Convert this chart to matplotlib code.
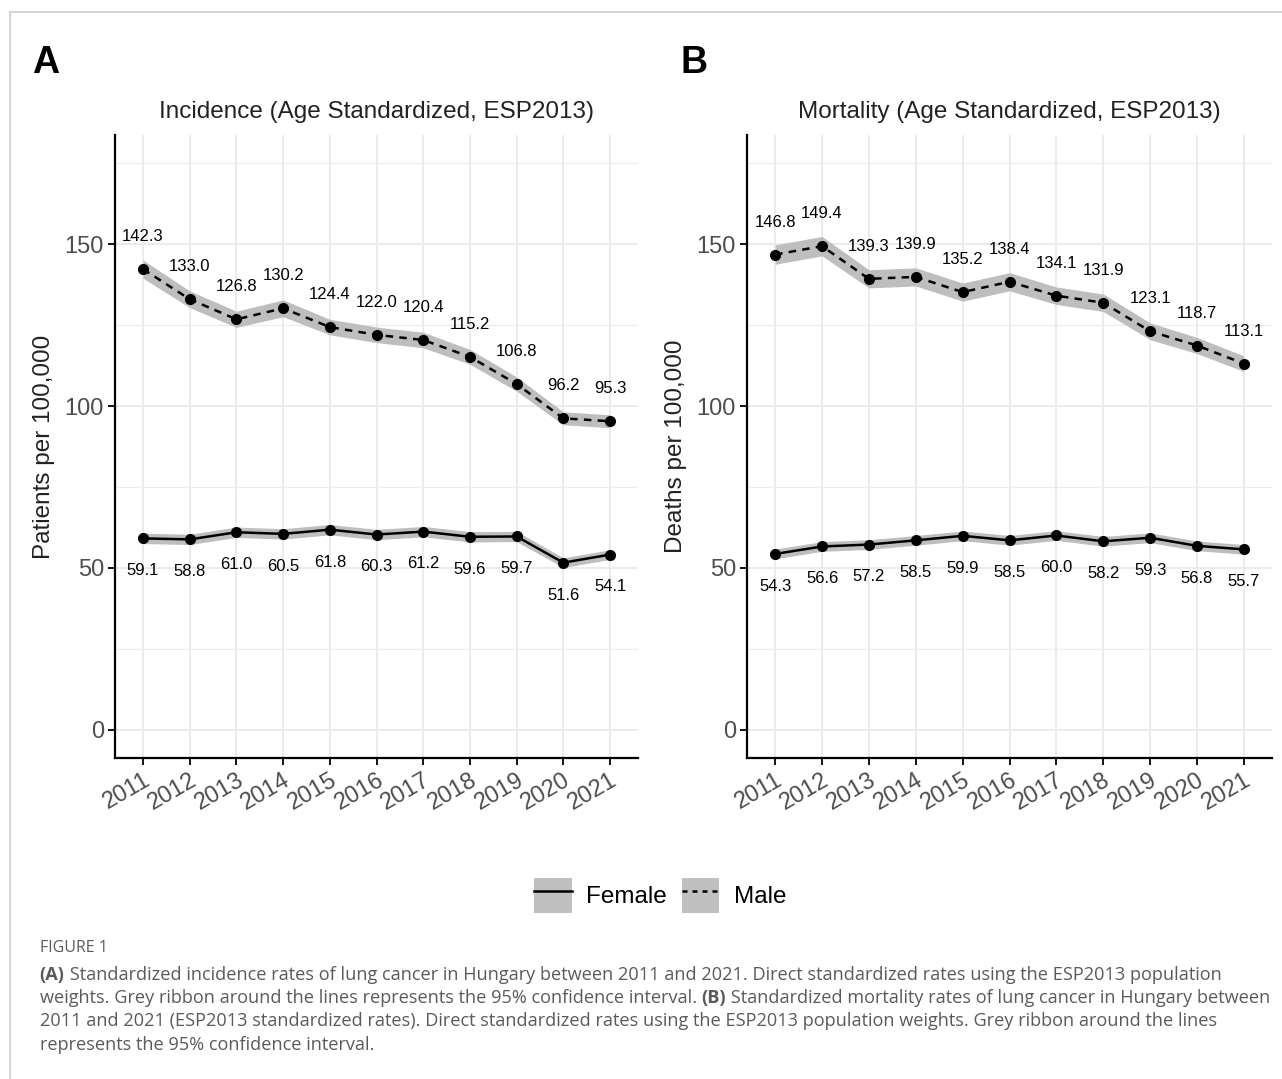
import matplotlib.pyplot as plt
from matplotlib.lines import Line2D
from matplotlib.patches import Patch

years = [2011, 2012, 2013, 2014, 2015, 2016, 2017, 2018, 2019, 2020, 2021]

# Incidence (panel A)
inc_male = [142.3, 133.0, 126.8, 130.2, 124.4, 122.0, 120.4, 115.2, 106.8, 96.2, 95.3]
inc_male_lo = [139.5, 130.4, 124.3, 127.6, 122.0, 119.6, 118.0, 112.9, 104.6, 94.2, 93.3]
inc_male_hi = [145.1, 135.6, 129.3, 132.8, 126.8, 124.4, 122.8, 117.5, 109.0, 98.2, 97.3]
inc_female = [59.1, 58.8, 61.0, 60.5, 61.8, 60.3, 61.2, 59.6, 59.7, 51.6, 54.1]
inc_female_lo = [57.5, 57.2, 59.4, 58.9, 60.2, 58.7, 59.6, 58.0, 58.1, 50.1, 52.6]
inc_female_hi = [60.7, 60.4, 62.6, 62.1, 63.4, 61.9, 62.8, 61.2, 61.3, 53.1, 55.6]

# Mortality (panel B)
mort_male = [146.8, 149.4, 139.3, 139.9, 135.2, 138.4, 134.1, 131.9, 123.1, 118.7, 113.1]
mort_male_lo = [143.8, 146.4, 136.5, 137.1, 132.4, 135.6, 131.4, 129.2, 120.5, 116.2, 110.7]
mort_male_hi = [149.8, 152.4, 142.1, 142.7, 138.0, 141.2, 136.8, 134.6, 125.7, 121.2, 115.5]
mort_female = [54.3, 56.6, 57.2, 58.5, 59.9, 58.5, 60.0, 58.2, 59.3, 56.8, 55.7]
mort_female_lo = [52.8, 55.1, 55.7, 57.0, 58.4, 57.0, 58.5, 56.7, 57.8, 55.3, 54.2]
mort_female_hi = [55.8, 58.1, 58.7, 60.0, 61.4, 60.0, 61.5, 59.7, 60.8, 58.3, 57.2]

plt.rcParams['font.family'] = ['Liberation Sans', 'DejaVu Sans']

fig = plt.figure(figsize=(12.82, 10.79), dpi=100)
ribbon_col = '#BEBEBE'
grid_col = '#EBEBEB'


def draw_panel(ax, male, male_lo, male_hi, female, female_lo, female_hi, title, ylabel):
    ax.fill_between(years, male_lo, male_hi, color=ribbon_col, lw=0, zorder=2)
    ax.fill_between(years, female_lo, female_hi, color=ribbon_col, lw=0, zorder=2)
    ax.plot(years, male, color='black', lw=1.8, ls=(0, (3, 2.5)), marker='o', ms=7, zorder=3)
    ax.plot(years, female, color='black', lw=1.8, ls='-', marker='o', ms=7, zorder=3)

    # value labels nudged above (male) and below (female)
    for x, v in zip(years, male):
        ax.text(x, v + 10, f'{v:.1f}', ha='center', va='center', fontsize=12, zorder=4)
    for x, v in zip(years, female):
        ax.text(x, v - 10, f'{v:.1f}', ha='center', va='center', fontsize=12, zorder=4)

    ax.set_xlim(2010.4, 2021.6)
    ax.set_ylim(-8.75, 183.75)
    ax.set_xticks(years)
    ax.set_xticklabels([str(y) for y in years], rotation=30, ha='right', va='top',
                       rotation_mode='anchor')
    ax.set_yticks([0, 50, 100, 150])
    ax.set_yticks([25, 75, 125, 175], minor=True)
    ax.grid(True, which='major', color=grid_col, lw=1.4, zorder=0)
    ax.grid(True, which='minor', axis='y', color=grid_col, lw=0.8, zorder=0)
    ax.set_axisbelow(True)
    for s in ['top', 'right']:
        ax.spines[s].set_visible(False)
    for s in ['left', 'bottom']:
        ax.spines[s].set_linewidth(1.6)
        ax.spines[s].set_color('black')
    ax.tick_params(axis='both', which='major', labelsize=17, labelcolor='#4D4D4D',
                   length=5, width=1.3, color='black', pad=3)
    ax.tick_params(axis='y', which='minor', length=0)
    ax.set_title(title, fontsize=17.5, color='#222222', pad=12)
    ax.set_ylabel(ylabel, fontsize=17.5, color='#222222', labelpad=7)


axA = fig.add_axes([0.0897, 0.2975, 0.408, 0.5774])
axB = fig.add_axes([0.5827, 0.2975, 0.4095, 0.5774])
draw_panel(axA, inc_male, inc_male_lo, inc_male_hi, inc_female, inc_female_lo, inc_female_hi,
           'Incidence (Age Standardized, ESP2013)', 'Patients per 100,000')
draw_panel(axB, mort_male, mort_male_lo, mort_male_hi, mort_female, mort_female_lo, mort_female_hi,
           'Mortality (Age Standardized, ESP2013)', 'Deaths per 100,000')

fig.text(0.025, 0.942, 'A', fontsize=27, fontweight='bold', va='center', ha='left')
fig.text(0.531, 0.942, 'B', fontsize=27, fontweight='bold', va='center', ha='left')

# legend
h_female = (Patch(facecolor='#C0C0C0', edgecolor='none'), Line2D([], [], color='black', lw=1.8))
h_male = (Patch(facecolor='#C0C0C0', edgecolor='none'),
          Line2D([], [], color='black', lw=1.8, ls=(0, (2, 2))))
fig.legend([h_female, h_male], ['Female', 'Male'], loc='center', bbox_to_anchor=(0.515, 0.170),
           ncol=2, frameon=False, fontsize=17.5, handlelength=1.55, handleheight=1.8,
           handletextpad=0.6, columnspacing=0.6)

# caption
cap_col = '#5A5A5A'
cap_font = ['Open Sans', 'DejaVu Sans']
cap_size = 13.1
fig.text(0.031, 1 - 948 / 1079, 'FIGURE 1', fontsize=11.5, color=cap_col, family=cap_font,
         va='center', ha='left')


def caption_line(y_px, parts):
    prev = None
    for txt, bold in parts:
        w = 'bold' if bold else 'normal'
        if prev is None:
            prev = fig.text(0.031, 1 - y_px / 1079, txt, fontsize=cap_size, color=cap_col,
                            family=cap_font, fontweight=w, va='center', ha='left')
        else:
            prev = fig.add_artist(plt.Annotation(txt, xy=(1, 0), xycoords=prev, fontsize=cap_size,
                                                 color=cap_col, family=cap_font, fontweight=w,
                                                 va='bottom', ha='left', annotation_clip=False))


caption_line(975, [('(A)', True),
                   (' Standardized incidence rates of lung cancer in Hungary between 2011 and 2021. '
                    'Direct standardized rates using the ESP2013 population', False)])
caption_line(998, [('weights. Grey ribbon around the lines represents the 95% confidence interval. ', False),
                   ('(B)', True),
                   (' Standardized mortality rates of lung cancer in Hungary between', False)])
caption_line(1021, [('2011 and 2021 (ESP2013 standardized rates). Direct standardized rates using the '
                     'ESP2013 population weights. Grey ribbon around the lines', False)])
caption_line(1045, [('represents the 95% confidence interval.', False)])

# frame lines
fig.add_artist(Line2D([10 / 1282, 1], [1 - 12 / 1079, 1 - 12 / 1079], color='#CCCCCC', lw=1.2,
                      transform=fig.transFigure))
fig.add_artist(Line2D([10 / 1282, 10 / 1282], [0, 1 - 12 / 1079], color='#CCCCCC', lw=1.2,
                      transform=fig.transFigure))

fig.savefig('out.png', dpi=100)
